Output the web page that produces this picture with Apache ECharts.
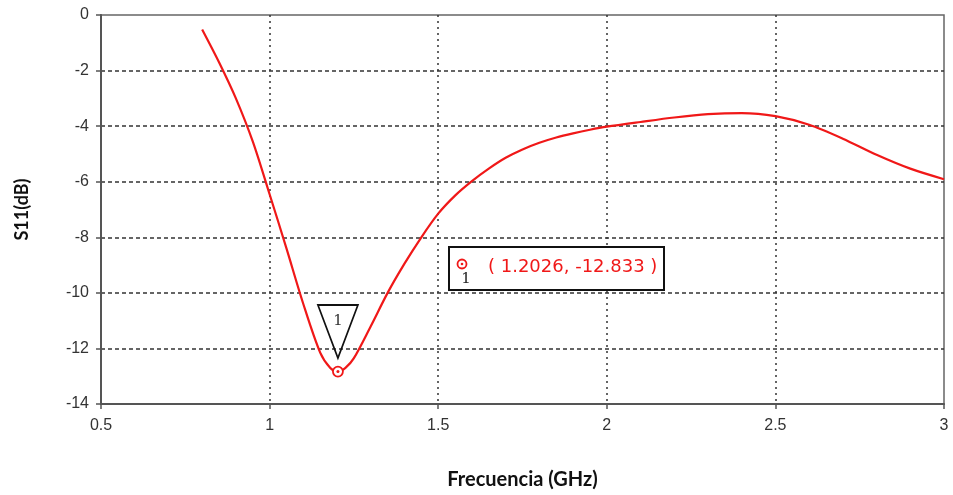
<!DOCTYPE html>
<html>
<head>
<meta charset="utf-8">
<script src="https://cdn.jsdelivr.net/npm/echarts@6/dist/echarts.min.js"></script>
<style>
html,body{margin:0;padding:0;background:#fff;}
#chart{width:953px;height:495px;}
</style>
</head>
<body>
<div id="chart"></div>
<script>
// Data
const freqGHz = [0.80, 0.85, 0.90, 0.95, 1.00, 1.05, 1.10, 1.15, 1.18, 1.2026, 1.225, 1.25, 1.30, 1.35, 1.40, 1.45, 1.50, 1.55, 1.60, 1.65, 1.70, 1.75, 1.80, 1.85, 1.90, 1.95, 2.00, 2.10, 2.20, 2.30, 2.40, 2.50, 2.60, 2.70, 2.80, 2.90, 3.00];
const s11dB   = [-0.52, -1.7, -3.0, -4.55, -6.45, -8.4, -10.4, -12.15, -12.7, -12.833, -12.7, -12.35, -11.2, -10.0, -8.95, -8.0, -7.15, -6.5, -5.98, -5.53, -5.14, -4.84, -4.6, -4.41, -4.26, -4.13, -4.02, -3.85, -3.69, -3.57, -3.53, -3.64, -3.95, -4.45, -5.03, -5.53, -5.91];
const markerFreq = 1.2026;
const markerS11 = -12.833;
const markerLabel = '( 1.2026, -12.833 )';
const xTitle = 'Frecuencia (GHz)';
const yTitle = 'S11(dB)';

const chart = echarts.init(document.getElementById('chart'), null, {renderer: 'canvas'});
const gridColor = '#333';
const option = {
  animation: false,
  backgroundColor: '#fff',
  grid: {left: 101, right: 9, top: 15, bottom: 87, show: true, borderColor: '#666', borderWidth: 1.5, backgroundColor: 'transparent'},
  xAxis: {
    type: 'value', min: 0.5, max: 3, interval: 0.5,
    name: xTitle, nameLocation: 'middle', nameGap: 66,
    nameTextStyle: {fontFamily: 'Lato', fontWeight: 'bold', fontSize: 20, color: '#111'},
    axisLine: {show: true, onZero: false, lineStyle: {color: '#555', width: 2}},
    axisTick: {show: true, length: 5, lineStyle: {color: '#555', width: 1.5}},
    axisLabel: {fontFamily: 'Liberation Sans', fontSize: 16, color: '#333', margin: 14,
      formatter: v => String(v)},
    splitLine: {show: true, showMinLine: false, showMaxLine: false, lineStyle: {color: gridColor, width: 1.5, type: [2, 4]}}
  },
  yAxis: {
    type: 'value', min: -14, max: 0, interval: 2,
    name: yTitle, nameLocation: 'middle', nameGap: 70, nameRotate: 90,
    nameTextStyle: {fontFamily: 'Lato', fontWeight: 'bold', fontSize: 18, color: '#111'},
    axisLine: {show: true, lineStyle: {color: '#555', width: 2}},
    axisTick: {show: true, length: 5, lineStyle: {color: '#555', width: 1.5}},
    axisLabel: {fontFamily: 'Liberation Sans', fontSize: 16, color: '#333', margin: 12},
    splitLine: {show: true, showMinLine: false, showMaxLine: false, lineStyle: {color: gridColor, width: 1.5, type: [4, 3]}}
  },
  series: [{
    type: 'line',
    data: freqGHz.map((f, i) => [f, s11dB[i]]),
    smooth: 0.3,
    showSymbol: false,
    lineStyle: {color: '#f01818', width: 2.2},
    z: 3,
    markPoint: {
      silent: true,
      data: [
        {coord: [markerFreq, markerS11], symbol: 'path://M0,0 L40,0 L20,53 Z', symbolSize: [40, 53], symbolOffset: [0, -40],
         itemStyle: {color: 'rgba(255,255,255,0)', borderColor: '#111', borderWidth: 1.8},
         label: {show: true, formatter: '1', position: 'inside', offset: [0, -10], fontFamily: 'DejaVu Serif', fontSize: 15, color: '#333'}},
        {coord: [markerFreq, markerS11], symbol: 'circle', symbolSize: 10,
         itemStyle: {color: '#fff', borderColor: '#f01818', borderWidth: 1.8}, label: {show: false}},
        {coord: [markerFreq, markerS11], symbol: 'circle', symbolSize: 3,
         itemStyle: {color: '#f01818'}, label: {show: false}}
      ]
    }
  }],
  graphic: [
    {type: 'rect', left: 448, top: 246, shape: {width: 215, height: 43}, style: {fill: '#fff', stroke: '#111', lineWidth: 2}, z: 10},
    {type: 'circle', shape: {cx: 462, cy: 264, r: 4.5}, style: {fill: '#fff', stroke: '#f01818', lineWidth: 1.8}, z: 11},
    {type: 'circle', shape: {cx: 462, cy: 264, r: 1.3}, style: {fill: '#f01818'}, z: 11},
    {type: 'text', x: 466, y: 279, style: {text: '1', fill: '#222', font: '15px "DejaVu Serif"', textAlign: 'center', textVerticalAlign: 'middle'}, z: 11},
    {type: 'text', x: 488, y: 267, style: {text: markerLabel, fill: '#f01818', font: '18px "DejaVu Sans"', textAlign: 'left', textVerticalAlign: 'middle'}, z: 11}
  ]
};
chart.setOption(option);
</script>
</body>
</html>
